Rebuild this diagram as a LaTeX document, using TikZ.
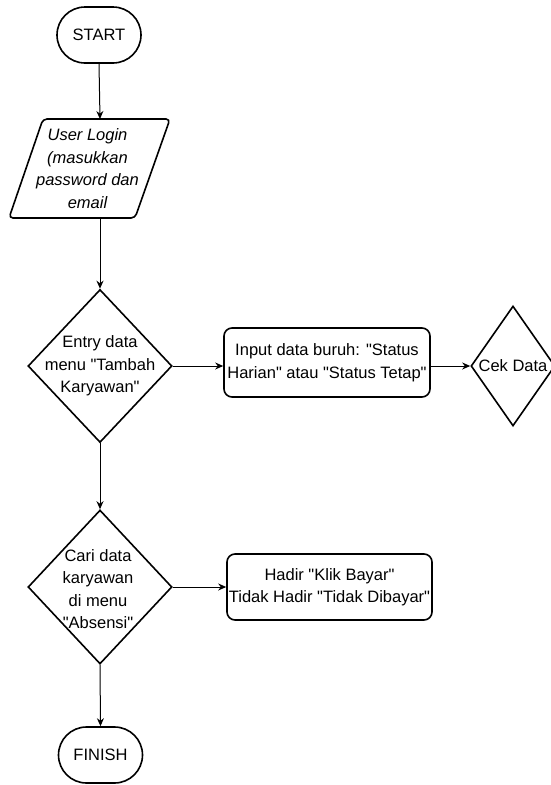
\documentclass[tikz,border=0pt]{standalone}
\usepackage{fontspec}
\setmainfont{Liberation Sans}
\usetikzlibrary{shapes.geometric,arrows.meta}
\newcommand{\dq}{\textquotedbl}
\begin{document}
\begin{tikzpicture}[x=1pt,y=-1pt,
  shapeline/.style={draw=black,line width=1.6pt},
  term/.style={shapeline,rounded corners=28pt,minimum width=84pt,minimum height=56pt,inner sep=0pt},
  dia/.style={shapeline,diamond,inner sep=0pt},
  procbox/.style={shapeline,rounded corners=8pt,inner sep=0pt,align=center},
  txt/.style={align=center,inner sep=0pt},
  arr/.style={draw=black,line width=1pt,-{Stealth[length=8pt,width=7pt]}},
  every node/.style={font=\fontsize{16.5}{22.5}\selectfont}
]
\useasboundingbox (0,0) rectangle (550,785);
% START
\node[term] (start) at (99,35) {START};
% login parallelogram
\coordinate (lgTL) at (43,119);
\coordinate (lgTR) at (170,119);
\coordinate (lgBR) at (135,218);
\coordinate (lgBL) at (9,218);
\draw[shapeline,rounded corners=4pt] (lgTL) -- (lgTR) -- (lgBR) -- (lgBL) -- cycle;
\node[txt,font=\fontsize{16.5}{22.5}\selectfont\itshape] (login) at (87.5,168.5) {User Login\\(masukkan\\password dan\\email};
\coordinate (lgTop) at (100,119);
\coordinate (lgBot) at (100,218);
% decision 1
\node[dia,minimum width=144pt,minimum height=153pt] (d1) at (100,366) {};
\node[txt] (d1t) at (100,366) {Entry data\\menu \dq Tambah\\Karyawan\dq};
% box 1
\node[procbox,minimum width=206pt,minimum height=69pt] (b1) at (327,362.5) {Input data buruh: \dq Status\\Harian\dq{} atau \dq Status Tetap\dq};
% cek data
\node[dia,minimum width=84pt,minimum height=120pt] (cek) at (513,366) {};
\node[txt] (cekt) at (513,366) {Cek Data};
% decision 2
\node[dia,minimum width=144pt,minimum height=154pt] (d2) at (100,587) {};
\node[txt] (d2t) at (98,589) {Cari data\\karyawan\\di menu\\\dq Absensi\dq};
% box 2
\node[procbox,minimum width=205pt,minimum height=66pt] (b2) at (329.5,587) {Hadir \dq Klik Bayar\dq\\Tidak Hadir \dq Tidak Dibayar\dq};
% FINISH
\node[term] (finish) at (100.5,755) {FINISH};
% connectors
\draw[arr] (start.south) -- (lgTop);
\draw[arr] (lgBot) -- (d1.north);
\draw[arr] (d1.south) -- (d2.north);
\draw[arr] (d1.east) -- (d1.east -| b1.west);
\draw[arr] (cek.west -| b1.east) -- (cek.west);
\draw[arr] (d2.east) -- (d2.east -| b2.west);
\draw[arr] (d2.south) -- (finish.north);
\end{tikzpicture}
\end{document}
